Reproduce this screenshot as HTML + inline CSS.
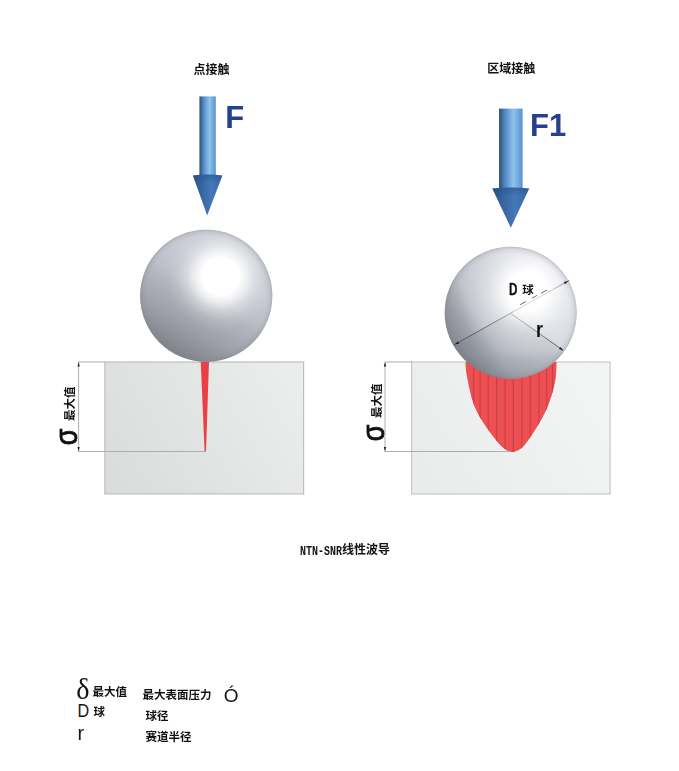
<!DOCTYPE html>
<html lang="zh-CN">
<head>
<meta charset="utf-8">
<title>NTN-SNR线性波导 - 点接触 / 区域接触</title>
<style>
html,body{margin:0;padding:0;background:#fff;}
body{width:679px;height:771px;position:relative;overflow:hidden;font-family:"Liberation Sans","Noto Sans CJK SC",sans-serif;}
svg{position:absolute;left:0;top:0;display:block;}
svg text{font-family:"Liberation Sans","Noto Sans CJK SC",sans-serif;}
.t{position:absolute;margin:0;white-space:nowrap;color:transparent;font-family:"Liberation Sans","Noto Sans CJK SC",sans-serif;font-size:12px;line-height:12px;}
</style>
</head>
<body>
<svg width="679" height="771" viewBox="0 0 679 771">
<defs>

<linearGradient id="shaft" x1="0" y1="0" x2="1" y2="0">
  <stop offset="0" stop-color="#34597c"/>
  <stop offset="0.1" stop-color="#3a6288"/>
  <stop offset="0.21" stop-color="#4e82bb"/>
  <stop offset="0.33" stop-color="#5d95cf"/>
  <stop offset="0.5" stop-color="#7db2e2"/>
  <stop offset="0.62" stop-color="#8fc3ea"/>
  <stop offset="0.8" stop-color="#72abdf"/>
  <stop offset="0.93" stop-color="#649ad6"/>
  <stop offset="1" stop-color="#5b90cc"/>
</linearGradient>
<linearGradient id="head" x1="0" y1="0" x2="1" y2="0">
  <stop offset="0" stop-color="#284f7f"/>
  <stop offset="0.3" stop-color="#3766a1"/>
  <stop offset="0.62" stop-color="#4577b7"/>
  <stop offset="1" stop-color="#3567a5"/>
</linearGradient>
<linearGradient id="headv" x1="0" y1="0" x2="0" y2="1">
  <stop offset="0" stop-color="#234a7c" stop-opacity="0.4"/>
  <stop offset="0.22" stop-color="#234a7c" stop-opacity="0"/>
</linearGradient>
<linearGradient id="lgL" x1="0.75" y1="0.067" x2="0.25" y2="0.933">
  <stop offset="0" stop-color="#cacdd5"/>
  <stop offset="0.29" stop-color="#c7cad2"/>
  <stop offset="0.457" stop-color="#bec1c9"/>
  <stop offset="0.558" stop-color="#b2b5bd"/>
  <stop offset="0.756" stop-color="#9ea1a9"/>
  <stop offset="0.96" stop-color="#85888f"/>
  <stop offset="1" stop-color="#80838b"/>
</linearGradient>
<radialGradient id="hlL" gradientUnits="userSpaceOnUse" cx="220.7" cy="276.5" r="54">
  <stop offset="0" stop-color="#fff" stop-opacity="1"/>
  <stop offset="0.34" stop-color="#fff" stop-opacity="1"/>
  <stop offset="0.48" stop-color="#fff" stop-opacity="0.72"/>
  <stop offset="0.62" stop-color="#fff" stop-opacity="0.38"/>
  <stop offset="0.8" stop-color="#fff" stop-opacity="0.12"/>
  <stop offset="1" stop-color="#fff" stop-opacity="0"/>
</radialGradient>
<linearGradient id="lgR" x1="0.935" y1="0.25" x2="0.065" y2="0.75">
  <stop offset="0" stop-color="#d9dce4"/>
  <stop offset="0.275" stop-color="#d5d8e0"/>
  <stop offset="0.6" stop-color="#c6c9d1"/>
  <stop offset="0.72" stop-color="#bdc0c8"/>
  <stop offset="0.87" stop-color="#9b9ea6"/>
  <stop offset="1" stop-color="#84878f"/>
</linearGradient>
<radialGradient id="hlR" gradientUnits="userSpaceOnUse" cx="528" cy="291" r="70">
  <stop offset="0" stop-color="#fff" stop-opacity="1"/>
  <stop offset="0.28" stop-color="#fff" stop-opacity="1"/>
  <stop offset="0.42" stop-color="#fff" stop-opacity="0.7"/>
  <stop offset="0.56" stop-color="#fff" stop-opacity="0.4"/>
  <stop offset="0.75" stop-color="#fff" stop-opacity="0.18"/>
  <stop offset="1" stop-color="#fff" stop-opacity="0"/>
</radialGradient>
<linearGradient id="blk" x1="0" y1="0.7" x2="1" y2="0.3">
  <stop offset="0" stop-color="#dbdddd"/>
  <stop offset="1" stop-color="#ebeded"/>
</linearGradient>
<linearGradient id="blk2" x1="0" y1="0.7" x2="1" y2="0.3">
  <stop offset="0" stop-color="#eaebeb"/>
  <stop offset="1" stop-color="#f3f4f4"/>
</linearGradient>
<filter id="gs" x="-20%" y="-20%" width="140%" height="140%"><feOffset dx="0" dy="0"/></filter>
<filter id="soft" x="-2%" y="-2%" width="104%" height="104%"><feGaussianBlur stdDeviation="0.6"/></filter>
<linearGradient id="btmR" gradientUnits="userSpaceOnUse" x1="0" y1="350" x2="0" y2="379">
  <stop offset="0" stop-color="#50535a" stop-opacity="0"/>
  <stop offset="1" stop-color="#50535a" stop-opacity="0.26"/>
</linearGradient>
<radialGradient id="rim2" cx="0.5" cy="0.5" r="0.5">
  <stop offset="0.9" stop-color="#7d8088" stop-opacity="0"/>
  <stop offset="0.96" stop-color="#7d8088" stop-opacity="0.12"/>
  <stop offset="0.985" stop-color="#7d8088" stop-opacity="0.25"/>
  <stop offset="1" stop-color="#7a7d85" stop-opacity="0.42"/>
</radialGradient>
<clipPath id="rb"><circle cx="510.7" cy="312.7" r="66"/></clipPath>

</defs>
<g filter="url(#soft)">
<rect x="104.9" y="362" width="198.7" height="131.9" fill="url(#blk)" stroke="#bebebf" stroke-width="1.2"/>
<rect x="411.6" y="362" width="198.5" height="132" fill="url(#blk2)" stroke="#c8c8c9" stroke-width="1.2"/>
<path d="M200.7 361.5 L209 361.5 L206 451.5 L204.6 451.5 Z" fill="#ea4045"/>
<clipPath id="redc"><path d="M465.5 362 C465.6 363.6 465.8 368.8 466.2 371.9 C466.6 375.0 467.1 377.6 467.7 380.4 C468.2 383.2 468.7 385.6 469.5 388.9 C470.3 392.2 471.0 396.1 472.3 400 C473.6 403.9 475.2 408.3 477.3 412.5 C479.4 416.7 482.0 420.8 484.8 425 C487.6 429.2 491.6 434.5 494 437.6 C496.4 440.7 497.3 441.9 499 443.8 C500.7 445.7 502.8 447.6 504.4 448.8 C506.0 450.1 507.2 450.8 508.5 451.3 C509.8 451.9 511.0 452.1 512.2 452.1 C513.5 452.1 514.6 451.9 516 451.3 C517.4 450.8 519.1 450.1 520.7 448.8 C522.3 447.6 524.1 445.7 525.7 443.8 C527.3 441.9 528.0 440.7 530.1 437.6 C532.2 434.5 535.7 429.2 538.2 425 C540.7 420.8 543.1 416.7 545.1 412.5 C547.1 408.3 548.7 403.9 550.1 400 C551.5 396.1 552.5 392.2 553.4 388.9 C554.3 385.6 554.8 383.2 555.3 380.4 C555.8 377.6 556.0 375.0 556.2 371.9 C556.4 368.8 556.5 363.6 556.6 362 Z"/></clipPath>
<path d="M465.5 362 C465.6 363.6 465.8 368.8 466.2 371.9 C466.6 375.0 467.1 377.6 467.7 380.4 C468.2 383.2 468.7 385.6 469.5 388.9 C470.3 392.2 471.0 396.1 472.3 400 C473.6 403.9 475.2 408.3 477.3 412.5 C479.4 416.7 482.0 420.8 484.8 425 C487.6 429.2 491.6 434.5 494 437.6 C496.4 440.7 497.3 441.9 499 443.8 C500.7 445.7 502.8 447.6 504.4 448.8 C506.0 450.1 507.2 450.8 508.5 451.3 C509.8 451.9 511.0 452.1 512.2 452.1 C513.5 452.1 514.6 451.9 516 451.3 C517.4 450.8 519.1 450.1 520.7 448.8 C522.3 447.6 524.1 445.7 525.7 443.8 C527.3 441.9 528.0 440.7 530.1 437.6 C532.2 434.5 535.7 429.2 538.2 425 C540.7 420.8 543.1 416.7 545.1 412.5 C547.1 408.3 548.7 403.9 550.1 400 C551.5 396.1 552.5 392.2 553.4 388.9 C554.3 385.6 554.8 383.2 555.3 380.4 C555.8 377.6 556.0 375.0 556.2 371.9 C556.4 368.8 556.5 363.6 556.6 362 Z" fill="#ee4f52"/>
<path clip-path="url(#redc)" d="M473.6 355V455M480.1 355V455M488.3 355V455M496.6 355V455M505.2 355V455M513.3 355V455M521.9 355V455M530.4 355V455M538.9 355V455M546.6 355V455M552.5 355V455" stroke="#c94346" stroke-width="1.3" fill="none"/>
<g stroke="#aaaaac" stroke-width="0.95" fill="none"><path d="M78.6 362 H105 M78.6 362 V451.5 M78.6 451.5 H206"/><path d="M385 362 H412 M385 362 V451.5 M385 451.5 H511"/></g>
<g fill="#222"><path d="M78.6 362 l-1.15 4.4 h2.3z M78.6 451.5 l-1.15 -4.4 h2.3z"/><path d="M385 362 l-1.15 4.4 h2.3z M385 451.5 l-1.15 -4.4 h2.3z"/></g>
<circle cx="206.25" cy="295.75" r="66.1" fill="url(#lgL)"/><circle cx="206.25" cy="295.75" r="66.1" fill="url(#hlL)"/><circle cx="206.25" cy="295.75" r="66.1" fill="url(#rim2)"/>
<circle cx="510.7" cy="312.7" r="66" fill="url(#lgR)"/>
<g clip-path="url(#rb)"><path d="M453.8 345 L510.2 313 L564 350.3 L585 400 L430 400 Z" fill="#5d6068" opacity="0.12"/></g>
<g stroke="#5a5a5c" stroke-width="0.85" fill="none"><path d="M453.8 345 L569.4 280.3"/><path d="M510.2 313 L563 350.3"/></g>
<circle cx="510.7" cy="312.7" r="66" fill="url(#hlR)"/>
<g stroke="#5a5a5c" stroke-width="0.85" fill="none" opacity="0.3"><path d="M453.8 345 L569.4 280.3"/><path d="M510.2 313 L563 350.3"/></g>
<circle cx="510.7" cy="312.7" r="66" fill="url(#btmR)"/><circle cx="510.7" cy="312.7" r="66" fill="url(#rim2)"/>
<path d="M520.1 304.7 L553 286.7" stroke="#3a3a3c" stroke-width="1" stroke-dasharray="6.8 6.8 5.7 4.5 6.8 100" fill="none" opacity="0.75"/>
<g fill="#222"><path d="M0 0 L-4.6 -1.3 L-4.6 1.3 Z" transform="translate(568.4,280.9) rotate(-29.2)"/><path d="M0 0 L-4.6 -1.3 L-4.6 1.3 Z" transform="translate(454.6,344.6) rotate(150.8)"/><path d="M0 0 L-4.6 -1.3 L-4.6 1.3 Z" transform="translate(563.4,350.6) rotate(35.2)"/></g>
<rect x="199.4" y="96.4" width="16.4" height="79" fill="url(#shaft)"/>
<path d="M192.9 175.6 Q207.6 173.6 222.4 175.6 L207.2 215.4 Z" fill="url(#head)"/><path d="M192.9 175.6 Q207.6 173.6 222.4 175.6 L207.2 215.4 Z" fill="url(#headv)"/>
<rect x="499" y="108.6" width="23.6" height="81" fill="url(#shaft)"/>
<path d="M492.3 188.6 Q510.9 186.4 529.2 188.6 L510.8 227.8 Z" fill="url(#head)"/><path d="M492.3 188.6 Q510.9 186.4 529.2 188.6 L510.8 227.8 Z" fill="url(#headv)"/>
<text x="225.2" y="128.4" font-size="31" font-weight="bold" fill="#25408f">F</text>
<text x="530" y="136.1" font-size="31" font-weight="bold" fill="#25408f">F1</text>
<text transform="translate(509,294.6) scale(0.72,1)" font-size="16.3" font-weight="bold" fill="#111" stroke="#111" stroke-width="0.3">D</text>
<text transform="translate(535.9,336.8) scale(0.8,1)" font-size="22.5" font-weight="bold" fill="#111">r</text>
<text transform="translate(77.3,445.2) rotate(-90) scale(0.88,1)" font-size="30.5" fill="#111" stroke="#111" stroke-width="0.9">σ</text>
<text transform="translate(384.3,441.2) rotate(-90) scale(0.88,1)" font-size="30.5" fill="#111" stroke="#111" stroke-width="0.9">σ</text>
</g>
<text transform="translate(300,555) scale(0.74,1)" font-size="13.5" font-weight="bold" font-family="Liberation Mono" style="font-family:'Liberation Mono',monospace" fill="#111" filter="url(#gs)">NTN-SNR</text>
<text transform="translate(76.3,698.8) scale(0.94,1)" font-size="30" style="font-family:'Liberation Serif',serif" fill="#111" filter="url(#gs)">δ</text>
<text transform="translate(77.5,717.1) scale(0.9,1)" font-size="18" fill="#151515">D</text>
<text x="77.4" y="739.5" font-size="20" fill="#151515">r</text>
<text x="231.05" y="701.6" font-size="19" text-anchor="middle" fill="#151515">Ó</text>
<text x="193.4" y="73.8" font-size="12" font-weight="bold" fill="#111">点接触</text>
<text x="487.3" y="72.7" font-size="12" font-weight="bold" fill="#111">区域接触</text>
<text x="522.3" y="293.7" font-size="11.5" font-weight="bold" fill="#111">球</text>
<text transform="translate(74.2,421) rotate(-90)" font-size="11.5" font-weight="bold" fill="#111">最大值</text>
<text transform="translate(380.6,418) rotate(-90)" font-size="11.5" font-weight="bold" fill="#111">最大值</text>
<text x="342" y="554.3" font-size="12" font-weight="bold" fill="#111">线性波导</text>
<text x="92.6" y="696.2" font-size="11.5" font-weight="bold" fill="#111">最大值</text>
<text x="93.4" y="715.7" font-size="11.5" font-weight="bold" fill="#111">球</text>
<text x="142.5" y="699.3" font-size="11.5" font-weight="bold" fill="#111">最大表面压力</text>
<text x="145.4" y="720" font-size="11.5" font-weight="bold" fill="#111">球径</text>
<text x="145.4" y="741.2" font-size="11.5" font-weight="bold" fill="#111">赛道半径</text>
</svg>

<!-- selectable / accessible text layer -->
<p class="t" style="left:193px;top:63px">点接触</p>
<p class="t" style="left:488px;top:62px">区域接触</p>
<p class="t" style="left:227px;top:104px;font-size:30px;line-height:30px;font-weight:bold">F</p>
<p class="t" style="left:532px;top:111px;font-size:30px;line-height:30px;font-weight:bold">F1</p>
<p class="t" style="left:522px;top:283px">球</p>
<p class="t" style="left:63px;top:385px;writing-mode:vertical-rl;transform:rotate(180deg)">最大值</p>
<p class="t" style="left:369px;top:382px;writing-mode:vertical-rl;transform:rotate(180deg)">最大值</p>
<p class="t" style="left:342px;top:544px">线性波导</p>
<p class="t" style="left:93px;top:686px">最大值</p>
<p class="t" style="left:143px;top:689px">最大表面压力</p>
<p class="t" style="left:223px;top:686px;font-size:16px;line-height:16px">Ó</p>
<p class="t" style="left:78px;top:704px;font-size:16px;line-height:16px">D</p>
<p class="t" style="left:93px;top:706px">球</p>
<p class="t" style="left:145px;top:710px">球径</p>
<p class="t" style="left:78px;top:726px;font-size:16px;line-height:16px">r</p>
<p class="t" style="left:145px;top:731px">赛道半径</p>

</body>
</html>
